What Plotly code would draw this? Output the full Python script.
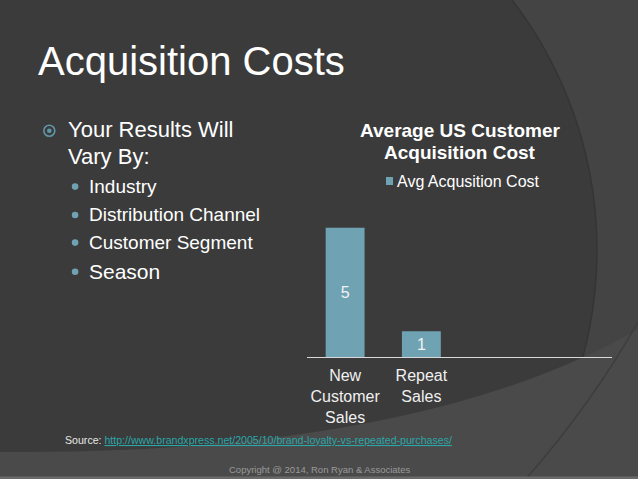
import plotly.graph_objects as go

W, H = 638, 479

# ---- data ----
categories = ["New<br>Customer<br>Sales", "Repeat<br>Sales"]
cat_pos = [0, 1]
values = [5, 1]
series_name = "Avg Acqusition Cost"
chart_title = ["Average US Customer", "Acquisition Cost"]
slide_title = "Acquisition Costs"
main_bullet = ["Your Results Will", "Vary By:"]
sub_bullets = ["Industry", "Distribution Channel", "Customer Segment", "Season"]
source_label = "Source: "
source_url = "http://www.brandxpress.net/2005/10/brand-loyalty-vs-repeated-purchases/"
copyright_text = "Copyright @ 2014, Ron Ryan & Associates"

FONT = "Liberation Sans, Arial, sans-serif"
BAR = "#6fa3b4"


def X(px):
    return px / W


def Y(py):
    return 1 - py / H


fig = go.Figure()
fig.add_trace(go.Bar(
    x=cat_pos, y=values, name=series_name, text=[str(v) for v in values],
    textposition="inside", insidetextanchor="middle",
    textfont=dict(color="#f2f2f2", size=16, family=FONT),
    marker=dict(color=BAR, line=dict(width=0)), width=0.51,
    hoverinfo="skip", showlegend=False,
))

shapes = [
    # big dark circle
    dict(type="circle", xref="paper", yref="paper", layer="below",
         x0=X(-223), x1=X(597), y0=Y(660), y1=Y(-160),
         fillcolor="#3b3b3b", line=dict(color="#353535", width=1.5)),
    # lighter bottom band
    dict(type="path", xref="paper", yref="paper", layer="below",
         path=f"M {X(0)},{Y(452)} Q {X(420)},{Y(455)} {X(640)},{Y(328)} L {X(640)},{Y(480)} L {X(0)},{Y(480)} Z",
         fillcolor="#4a4a4a", line=dict(width=0)),
    # thin arc bottom right
    dict(type="path", xref="paper", yref="paper", layer="below",
         path=f"M {X(525)},{Y(480)} Q {X(595)},{Y(400)} {X(640)},{Y(318)}",
         line=dict(color="#3e3e3e", width=1.5)),
    # bottom strip
    dict(type="rect", xref="paper", yref="paper", layer="below",
         x0=0, x1=1, y0=Y(479), y1=Y(476.5),
         fillcolor="#6a6a6a", line=dict(width=0)),
    # main bullet ring + dot
    dict(type="circle", xref="paper", yref="paper",
         x0=X(43.8), x1=X(54.8), y0=Y(136.2), y1=Y(125.2),
         line=dict(color="#5f97a8", width=1.6), fillcolor="rgba(0,0,0,0)"),
    dict(type="circle", xref="paper", yref="paper",
         x0=X(47), x1=X(51.6), y0=Y(133), y1=Y(128.4),
         line=dict(width=0), fillcolor="#5f97a8"),
    # legend square
    dict(type="rect", xref="paper", yref="paper",
         x0=X(386), x1=X(393), y0=Y(185), y1=Y(177),
         fillcolor=BAR, line=dict(width=0)),
]

sub_y = [186.6, 215, 242.6, 271.8]
sub_size = [19, 19, 19, 21]
for yy in sub_y:
    shapes.append(dict(type="circle", xref="paper", yref="paper",
                       x0=X(71.8), x1=X(78.4), y0=Y(yy + 3.3), y1=Y(yy - 3.3),
                       line=dict(width=0), fillcolor="#6fa3b4"))

ann = []


def text(t, x, y, size, color="#ffffff", xanchor="left", bold=False):
    if bold:
        t = f"<b>{t}</b>"
    ann.append(dict(text=t, x=X(x), y=Y(y), xref="paper", yref="paper",
                    xanchor=xanchor, yanchor="middle", showarrow=False,
                    font=dict(family=FONT, size=size, color=color)))


text(slide_title, 36, 61, 40)
text(main_bullet[0], 66, 129, 22)
text(main_bullet[1], 66, 156.5, 22)
for s, yy, sz in zip(sub_bullets, sub_y, sub_size):
    text(s, 87, yy, sz)
text(chart_title[0], 460, 130, 19, xanchor="center", bold=True)
text(chart_title[1], 460, 152, 19, xanchor="center", bold=True)
text(series_name, 395, 181, 16)
text(source_label + f"<span style='color:#2aa7a9;text-decoration:underline'>{source_url}</span>",
     63, 440, 10.6, color="#e8e8e8")
text(copyright_text, 320, 469, 9.5, color="#9a9a9a", xanchor="center")

fig.update_layout(
    width=W, height=H,
    margin=dict(l=0, r=0, t=0, b=0),
    paper_bgcolor="#444444", plot_bgcolor="rgba(0,0,0,0)",
    shapes=shapes, annotations=ann,
    xaxis=dict(domain=[X(307), X(612)], range=[-0.5, 3.5],
               tickvals=cat_pos, ticktext=categories,
               showline=True, linecolor="#d9d9d9", linewidth=1,
               showgrid=False, zeroline=False, ticks="",
               ticklabelstandoff=4,
               tickfont=dict(family=FONT, size=16, color="#f0f0f0"),
               fixedrange=True),
    yaxis=dict(domain=[Y(357), Y(202)], range=[0, 6], visible=False,
               fixedrange=True),
    showlegend=False,
)

fig.write_html(
    "out.html",
    config={"displayModeBar": False},
    post_script="document.body.style.margin='0';document.body.style.overflow='hidden';",
)
